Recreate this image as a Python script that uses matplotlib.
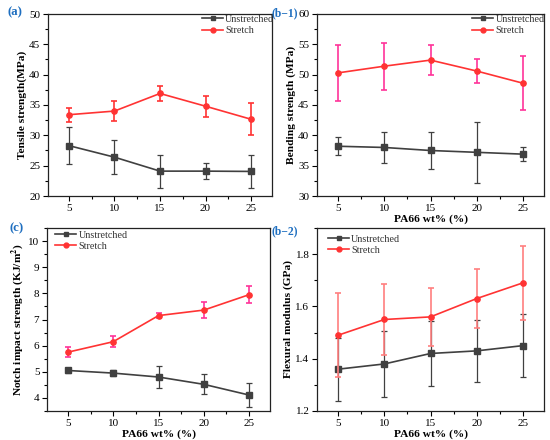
import matplotlib
matplotlib.use("Agg")
import matplotlib.pyplot as plt
from matplotlib.ticker import MultipleLocator, FormatStrFormatter
from matplotlib.lines import Line2D

plt.rcParams['font.family'] = ['Liberation Serif', 'DejaVu Serif']
plt.rcParams['mathtext.fontset'] = 'stix'

x = [5, 10, 15, 20, 25]

# (a) tensile strength
a_un = [28.3, 26.4, 24.1, 24.1, 24.05]
a_un_err = [3.0, 2.8, 2.7, 1.35, 2.65]
a_st = [33.4, 34.0, 36.9, 34.8, 32.65]
a_st_err = [1.15, 1.65, 1.3, 1.7, 2.65]

# (b-1) bending strength
b1_un = [38.2, 38.0, 37.5, 37.2, 36.9]
b1_un_err = [1.5, 2.6, 3.1, 5.0, 1.1]
b1_st = [50.3, 51.4, 52.4, 50.6, 48.6]
b1_st_err = [4.6, 3.85, 2.5, 2.05, 4.4]

# (c) notch impact strength
c_un = [5.05, 4.95, 4.8, 4.52, 4.11]
c_un_err = [0.08, 0.12, 0.42, 0.38, 0.47]
c_st = [5.75, 6.15, 7.15, 7.36, 7.95]
c_st_err = [0.18, 0.2, 0.1, 0.32, 0.33]

# (b-2) flexural modulus
b2_un = [1.36, 1.38, 1.42, 1.43, 1.45]
b2_un_err = [0.12, 0.125, 0.125, 0.12, 0.12]
b2_st = [1.49, 1.55, 1.56, 1.63, 1.69]
b2_st_err = [0.16, 0.135, 0.11, 0.113, 0.143]

GRAY = '#404040'
RED = '#FF3333'
MAG = '#FF3399'
PINK = '#FF7F7F'
BLUE = '#1F6FC0'

fig = plt.figure(figsize=(5.5, 4.4), dpi=100)
fig.patch.set_facecolor('white')

W, H = 550, 440
def ax_at(l, t, r, b):
    return fig.add_axes([l / W, 1 - b / H, (r - l) / W, (b - t) / H])

panels = [
    dict(box=(48, 14, 272, 196), un=a_un, une=a_un_err, st=a_st, ste=a_st_err,
         ecol=RED, ylim=(20, 50), major=5, minor=2.5, fmt='%d',
         ylabel='Tensile strength(MPa)', xlabel=None,
         leg=(0.687, 0.995), tag='(a)', tagpos=(8, 12), tagfs=9.2),
    dict(box=(317, 14, 544, 196), un=b1_un, une=b1_un_err, st=b1_st, ste=b1_st_err,
         ecol=MAG, ylim=(30, 60), major=5, minor=2.5, fmt='%d',
         ylabel='Bending strength (MPa)', xlabel='PA66 wt% (%)',
         leg=(0.683, 0.995), tag='(b\u22121)', tagpos=(272, 13), tagfs=8.4),
    dict(box=(47, 228, 270, 411), un=c_un, une=c_un_err, st=c_st, ste=c_st_err,
         ecol=MAG, ylim=(3.5, 10.5), major=1, minor=0.5, fmt='%d',
         ylabel='Notch impact strength (KJ/m$^{\\mathbf{2}}$)',
         xlabel='PA66 wt% (%)', leg=(0.036, 0.985), tag='(c)', tagpos=(10, 228),
         tagfs=9.2),
    dict(box=(317, 228, 544, 411), un=b2_un, une=b2_un_err, st=b2_st, ste=b2_st_err,
         ecol=PINK, ylim=(1.2, 1.9), major=0.2, minor=0.1, fmt='%.1f',
         ylabel='Flexural modulus (GPa)', xlabel='PA66 wt% (%)',
         leg=(0.048, 0.965), tag='(b\u22122)', tagpos=(272, 231), tagfs=8.4),
]

for p in panels:
    ax = ax_at(*p['box'])
    ax.errorbar(x, p['un'], yerr=p['une'], color=GRAY, marker='s', ms=3.8,
                lw=1.2, elinewidth=0.9, ecolor=GRAY, capsize=2.3, capthick=0.9,
                zorder=3)
    ax.errorbar(x, p['st'], yerr=p['ste'], color=RED, marker='o', ms=3.8,
                lw=1.2, elinewidth=1.2, ecolor=p['ecol'], capsize=2.3, capthick=1.2,
                zorder=4)
    ax.set_xlim(2.7, 27.3)
    ax.set_ylim(*p['ylim'])
    ax.set_xticks(x)
    ax.xaxis.set_minor_locator(MultipleLocator(2.5))
    ax.yaxis.set_major_locator(MultipleLocator(p['major']))
    ax.yaxis.set_minor_locator(MultipleLocator(p['minor']))
    ax.yaxis.set_major_formatter(FormatStrFormatter(p['fmt']))
    ax.tick_params(which='both', direction='out', top=False, right=False,
                   labelsize=8, width=0.8, pad=2)
    ax.tick_params(which='major', length=3.5)
    ax.tick_params(which='minor', length=2)
    for s in ax.spines.values():
        s.set_linewidth(0.9)
        s.set_color('#222222')
    ax.set_ylabel(p['ylabel'], fontsize=8.2, fontweight='bold', labelpad=1.5)
    if p['xlabel']:
        ax.set_xlabel(p['xlabel'], fontsize=8.2, fontweight='bold', labelpad=1)
    handles = [Line2D([], [], color=GRAY, marker='s', ms=3.5, lw=1.2),
               Line2D([], [], color=RED, marker='o', ms=3.5, lw=1.2)]
    leg = ax.legend(handles, ['Unstretched', 'Stretch'], loc='upper left',
                    bbox_to_anchor=p['leg'], frameon=False, fontsize=7.3,
                    handlelength=2.1, handletextpad=0.2, borderaxespad=0,
                    borderpad=0, labelspacing=0.2)
    for t in leg.get_texts():
        t.set_color('#333333')
    fig.text(p['tagpos'][0] / W, 1 - p['tagpos'][1] / H, p['tag'], color=BLUE,
             fontsize=p['tagfs'], fontweight='bold', ha='left', va='center')

fig.savefig('out.png', dpi=100, facecolor='white')
